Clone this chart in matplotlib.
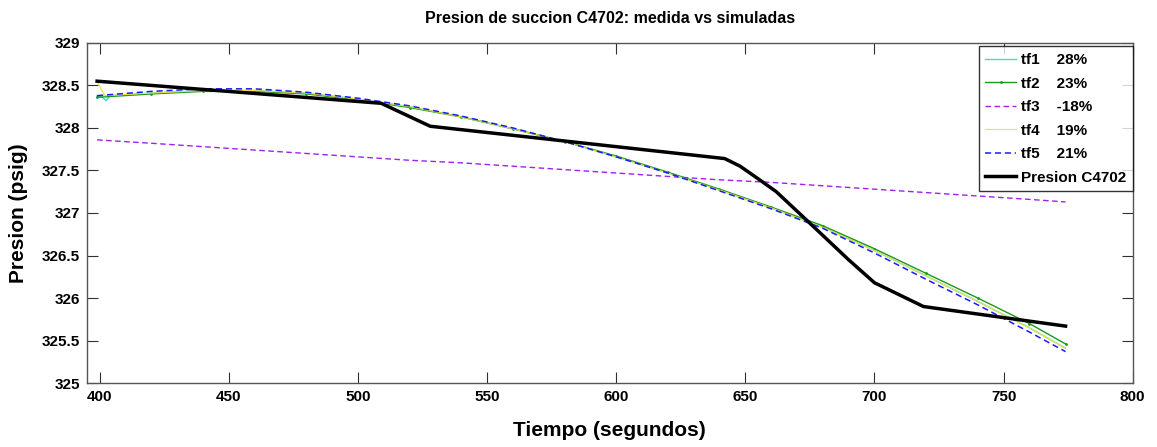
import matplotlib
matplotlib.use("Agg")
import matplotlib.pyplot as plt

# ---------------- data ----------------
t_meas = [399, 509, 528, 642, 648, 656, 662, 675, 690, 700, 719, 750, 774]
p_meas = [328.55, 328.29, 328.02, 327.64, 327.55, 327.38, 327.25, 326.88, 326.45, 326.18, 325.90, 325.77, 325.67]

t_sim = [399, 420, 440, 460, 480, 500, 520, 540, 560, 580, 600, 620, 640, 660, 680, 700, 720, 740, 760, 774]
tf2 = [328.36, 328.40, 328.43, 328.43, 328.40, 328.33, 328.24, 328.13, 327.99, 327.84, 327.67, 327.48, 327.28, 327.07, 326.85, 326.58, 326.29, 326.00, 325.70, 325.46]
tf3 = [327.86, 327.82, 327.78, 327.74, 327.70, 327.66, 327.62, 327.59, 327.55, 327.51, 327.47, 327.43, 327.39, 327.36, 327.32, 327.28, 327.24, 327.20, 327.16, 327.13]
tf5 = [328.38, 328.43, 328.46, 328.46, 328.42, 328.35, 328.26, 328.14, 328.00, 327.84, 327.66, 327.47, 327.26, 327.05, 326.82, 326.53, 326.22, 325.92, 325.60, 325.37]

t_tf1 = [399, 401, 402.5, 404, 420, 440, 460, 480, 500, 520, 540, 560, 580, 600, 620, 640, 660, 680, 700, 720, 740, 760, 774]
tf1 = [328.38, 328.36, 328.32, 328.38, 328.41, 328.44, 328.44, 328.41, 328.34, 328.25, 328.13, 327.99, 327.84, 327.66, 327.47, 327.27, 327.06, 326.83, 326.56, 326.26, 325.96, 325.65, 325.41]
t_tf4 = [399, 400.5, 402, 420, 440, 460, 480, 500, 520, 540, 560, 580, 600, 620, 640, 660, 680, 700, 720, 740, 760, 774]
tf4 = [328.55, 328.46, 328.38, 328.41, 328.44, 328.44, 328.41, 328.34, 328.25, 328.13, 327.99, 327.84, 327.66, 327.47, 327.27, 327.06, 326.83, 326.56, 326.26, 325.96, 325.65, 325.41]

labels = ["tf1    28%", "tf2    23%", "tf3    -18%", "tf4    19%", "tf5    21%", "Presion C4702"]
x_ticks = [400, 450, 500, 550, 600, 650, 700, 750, 800]
y_ticks = [325, 325.5, 326, 326.5, 327, 327.5, 328, 328.5, 329]
y_tick_labels = ["325", "325.5", "326", "326.5", "327", "327.5", "328", "328.5", "329"]

plt.rcParams['font.family'] = ["Liberation Sans", "DejaVu Sans"]

fig = plt.figure(figsize=(11.57, 4.47), dpi=100)
fig.patch.set_facecolor("white")
ax = fig.add_axes([0.075, 0.143, 0.904, 0.761])

ax.plot(t_tf1, tf1, color="#40d8d8", lw=1.0, label=labels[0])
ax.plot(t_sim, tf2, color="#1a9a1a", lw=1.0, marker='.', markersize=2, markevery=1, label=labels[1])
ax.plot(t_sim, tf3, color="#a020f0", lw=1.0, ls=(0, (4, 2.5)), label=labels[2])
ax.plot(t_tf4, tf4, color="#f0e040", lw=0.8, label=labels[3])
ax.plot(t_sim, tf5, color="#1a1aff", lw=1.1, ls=(0, (4, 2.5)), label=labels[4])
ax.plot(t_meas, p_meas, color="black", lw=2.5, label=labels[5])

ax.set_xlim(395, 800)
ax.set_ylim(325, 329)
ax.set_xticks(x_ticks)
ax.set_yticks(y_ticks)
ax.set_yticklabels(y_tick_labels)

for lab in ax.get_xticklabels() + ax.get_yticklabels():
    lab.set_fontweight("bold")
    lab.set_fontsize(11)

ax.tick_params(direction="in", length=8, width=0.8, color="#303030", top=True, right=True, pad=5)
for s in ax.spines.values():
    s.set_color("#555555")
    s.set_linewidth(1.0)

ax.set_title("Presion de succion C4702: medida vs simuladas", fontsize=11.5, fontweight="bold", pad=14)
ax.set_xlabel("Tiempo (segundos)", fontsize=15, fontweight="bold", labelpad=12)
ax.set_ylabel("Presion (psig)", fontsize=15, fontweight="bold", labelpad=10)

leg = ax.legend(loc="upper right", bbox_to_anchor=(1.0, 0.99), prop={"weight": "bold", "size": 11},
                frameon=True, fancybox=False, edgecolor="black", handlelength=2.0,
                borderaxespad=0.0, labelspacing=0.62, handletextpad=0.3, borderpad=0.45)
leg.get_frame().set_linewidth(1.0)

fig.savefig("out.png", dpi=100, facecolor="white")
